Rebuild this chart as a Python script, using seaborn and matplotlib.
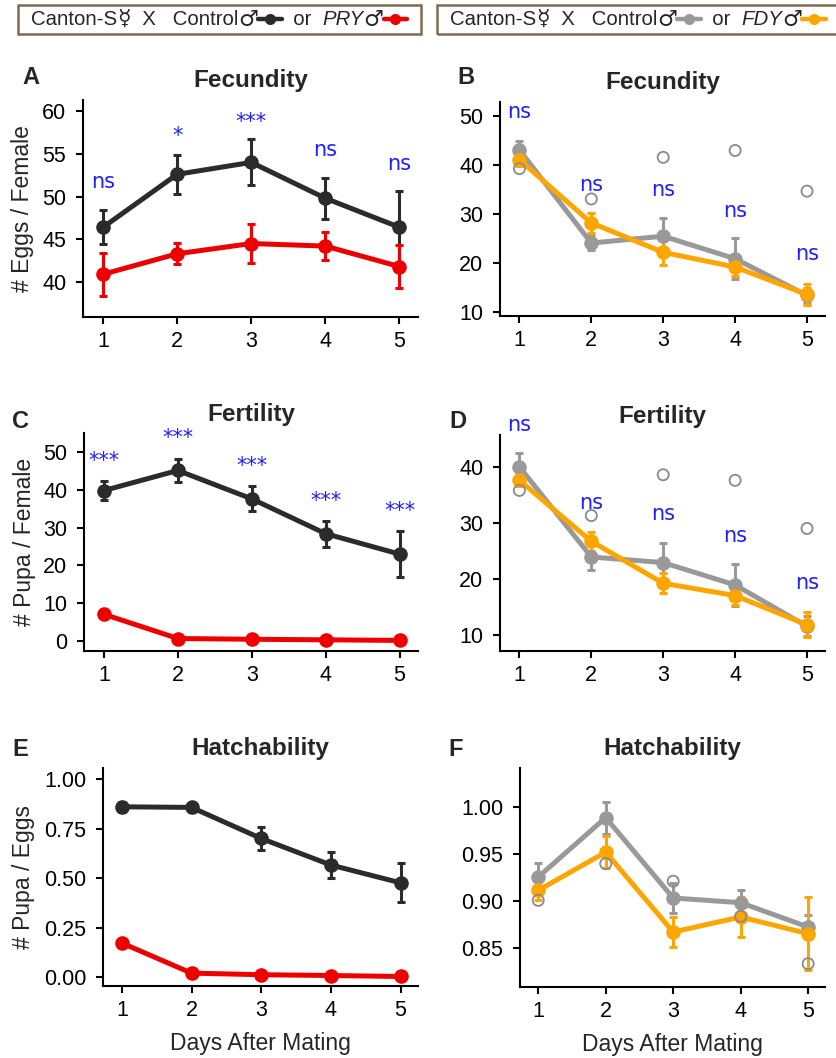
import numpy as np
import pandas as pd
import seaborn as sns
import matplotlib.pyplot as plt
from matplotlib.lines import Line2D
from matplotlib.patches import Rectangle
from matplotlib.ticker import FormatStrFormatter
from matplotlib.offsetbox import TextArea, DrawingArea, HPacker, AnchoredOffsetbox

# ---- data (mean +/- sem per day) ----
days = [1, 2, 3, 4, 5]

# Fecundity, eggs / female
fec_ctrl_a = [46.4, 52.6, 54.0, 49.8, 46.4]
fec_ctrl_a_sem = [2.0, 2.3, 2.7, 2.4, 4.2]
fec_pry = [40.9, 43.3, 44.5, 44.2, 41.8]
fec_pry_sem = [2.5, 1.25, 2.3, 1.65, 2.5]
fec_ctrl_b = [43.1, 24.1, 25.5, 20.9, 13.4]
fec_ctrl_b_sem = [1.9, 1.5, 3.8, 4.2, 1.5]
fec_fdy = [41.1, 28.2, 22.2, 19.2, 13.6]
fec_fdy_sem = [1.2, 2.05, 2.55, 1.9, 2.2]
fec_open_b = [39.3, 33.1, 41.6, 43.0, 34.7]

# Fertility, pupa / female
fer_ctrl_c = [39.8, 45.1, 37.6, 28.4, 23.0]
fer_ctrl_c_sem = [2.4, 3.0, 3.3, 3.4, 6.1]
fer_pry = [7.1, 0.7, 0.5, 0.35, 0.2]
fer_pry_sem = [0.5, 0.3, 0.2, 0.2, 0.1]
fer_ctrl_d = [40.0, 23.9, 22.9, 18.9, 11.5]
fer_ctrl_d_sem = [2.4, 2.3, 3.5, 3.7, 1.8]
fer_fdy = [37.6, 26.7, 19.2, 17.0, 11.8]
fer_fdy_sem = [1.0, 1.65, 1.75, 1.75, 2.2]
fer_open_d = [35.8, 31.3, 38.6, 37.6, 29.0]

# Hatchability, pupa / eggs
hat_ctrl_e = [0.860, 0.857, 0.700, 0.566, 0.476]
hat_ctrl_e_sem = [0.026, 0.022, 0.059, 0.066, 0.098]
hat_pry = [0.172, 0.020, 0.012, 0.008, 0.003]
hat_pry_sem = [0.010, 0.005, 0.003, 0.003, 0.002]
hat_ctrl_f = [0.9255, 0.9887, 0.9032, 0.8982, 0.8723]
hat_ctrl_f_sem = [0.015, 0.017, 0.016, 0.014, 0.0125]
hat_fdy = [0.9113, 0.952, 0.867, 0.883, 0.8652]
hat_fdy_sem = [0.0105, 0.017, 0.016, 0.021, 0.039]
hat_open_f = [0.9007, 0.9397, 0.921, 0.8837, 0.8333]

# significance labels and their heights
sig_a = ['ns', '*', '***', 'ns', 'ns']
sig_a_y = [51.0, 56.4, 58.0, 54.7, 53.1]
sig_b = ['ns', 'ns', 'ns', 'ns', 'ns']
sig_b_y = [49.7, 34.8, 33.8, 29.5, 20.7]
sig_c = ['***', '***', '***', '***', '***']
sig_c_y = [46.0, 52.0, 44.7, 35.4, 32.8]
sig_d = ['ns', 'ns', 'ns', 'ns', 'ns']
sig_d_y = [46.4, 32.4, 30.5, 26.5, 18.2]

BLACK = '#2b2b2b'
RED = '#ee0000'
GRAY = '#999999'
ORANGE = '#ffa500'
BLUE = '#1f1fff'
FONTS = ['Liberation Sans', 'DejaVu Sans']

sns.set_style('ticks')
plt.rcParams['font.family'] = FONTS
plt.rcParams['axes.linewidth'] = 1.5
plt.rcParams['axes.edgecolor'] = 'black'

W, H = 836, 1058
fig = plt.figure(figsize=(W / 100, H / 100), dpi=100)


def px_axes(l, t, r, b):
    return fig.add_axes([l / W, 1 - b / H, (r - l) / W, (b - t) / H])


def draw_group(ax, y, sem, color):
    ax.errorbar(days, y, yerr=sem, fmt='none', ecolor=color, elinewidth=2.2,
                capsize=3, capthick=2.2, zorder=2)
    sns.lineplot(x=days, y=y, color=color, marker='o', markersize=10.5,
                 markeredgewidth=0, linewidth=3.6, errorbar=None, ax=ax, zorder=3)


def style_axes(ax, title, ylim, yticks, ylabel=None, lab_x=-0.145, fmt=None):
    ax.set_xlim(0.73, 5.25)
    ax.set_ylim(*ylim)
    ax.set_xticks(days)
    ax.set_yticks(yticks)
    if fmt:
        ax.yaxis.set_major_formatter(FormatStrFormatter(fmt))
    ax.tick_params(direction='out', length=5, width=1.5, labelsize=15.5,
                   colors='black')
    ax.tick_params(axis='x', pad=5)
    ax.tick_params(axis='y', pad=7)
    sns.despine(ax=ax)
    ax.set_title(title, fontsize=17.5, fontweight='bold', pad=9)
    ax.set_xlabel('')
    if ylabel:
        ax.set_ylabel(ylabel, fontsize=16.5)
        ax.yaxis.set_label_coords(lab_x, 0.5)
    else:
        ax.set_ylabel('')


def add_sig(ax, labels, ys):
    for d, lab, y in zip(days, labels, ys):
        ax.text(d, y, lab, color=BLUE, fontsize=15, ha='center', va='baseline',
                family='DejaVu Sans', zorder=6)


def add_open(ax, ys):
    sns.scatterplot(x=days, y=ys, marker='o', s=64, facecolors='none',
                    edgecolors='#8a8a8a', linewidth=1.3, ax=ax, zorder=6)


# A
ax = px_axes(83, 100, 418, 317)
draw_group(ax, fec_ctrl_a, fec_ctrl_a_sem, BLACK)
draw_group(ax, fec_pry, fec_pry_sem, RED)
add_sig(ax, sig_a, sig_a_y)
style_axes(ax, 'Fecundity', (35.9, 61.3), [40, 45, 50, 55, 60], '# Eggs / Female', -0.145)

# B
ax = px_axes(500, 102, 825, 316)
draw_group(ax, fec_ctrl_b, fec_ctrl_b_sem, GRAY)
draw_group(ax, fec_fdy, fec_fdy_sem, ORANGE)
add_open(ax, fec_open_b)
add_sig(ax, sig_b, sig_b_y)
style_axes(ax, 'Fecundity', (9.2, 52.9), [10, 20, 30, 40, 50])

# C
ax = px_axes(84, 433, 418, 651)
draw_group(ax, fer_ctrl_c, fer_ctrl_c_sem, BLACK)
draw_group(ax, fer_pry, fer_pry_sem, RED)
add_sig(ax, sig_c, sig_c_y)
style_axes(ax, 'Fertility', (-2.6, 55), [0, 10, 20, 30, 40, 50], '# Pupa / Female', -0.145)

# D
ax = px_axes(500, 435, 825, 651)
draw_group(ax, fer_ctrl_d, fer_ctrl_d_sem, GRAY)
draw_group(ax, fer_fdy, fer_fdy_sem, ORANGE)
add_open(ax, fer_open_d)
add_sig(ax, sig_d, sig_d_y)
style_axes(ax, 'Fertility', (7.1, 45.7), [10, 20, 30, 40])

# E
ax = px_axes(103, 768, 418, 986)
draw_group(ax, hat_ctrl_e, hat_ctrl_e_sem, BLACK)
draw_group(ax, hat_pry, hat_pry_sem, RED)
style_axes(ax, 'Hatchability', (-0.045, 1.056), [0, 0.25, 0.5, 0.75, 1.0],
           '# Pupa / Eggs', -0.216, '%.2f')
ax.set_xlabel('Days After Mating', fontsize=16.5, labelpad=8)

# F
ax = px_axes(520, 768, 825, 987)
draw_group(ax, hat_ctrl_f, hat_ctrl_f_sem, GRAY)
draw_group(ax, hat_fdy, hat_fdy_sem, ORANGE)
add_open(ax, hat_open_f)
style_axes(ax, 'Hatchability', (0.8085, 1.0415), [0.85, 0.90, 0.95, 1.00],
           fmt='%.2f')
ax.set_xlabel('Days After Mating', fontsize=16.5, labelpad=8)

# panel letters
for lab, x, y in [('A', 22, 77), ('B', 457, 77), ('C', 12, 422),
                  ('D', 449, 422), ('E', 12, 750), ('F', 448, 750)]:
    fig.text(x / W, 1 - y / H, lab, fontsize=17, fontweight='bold',
             ha='left', va='center')


# header legends
def key(color):
    da = DrawingArea(17, 10, 0, 0)
    da.add_artist(Line2D([0, 17], [5, 5], color=color, lw=3.2))
    da.add_artist(Line2D([8.5], [5], color=color, marker='o', ms=8, mew=0))
    return da


def header(test_name, ctrl_color, test_color, left_px, right_px):
    tp = dict(size=14.7, family=FONTS)
    sp = dict(size=16, family='DejaVu Sans', weight='bold')
    parts = [TextArea('Canton-S', textprops=tp),
             TextArea('\u263f', textprops=sp),
             TextArea('  X   Control', textprops=tp),
             TextArea('\u2642', textprops=sp),
             key(ctrl_color),
             TextArea('  or  ', textprops=tp),
             TextArea(test_name, textprops=dict(tp, style='italic')),
             TextArea('\u2642', textprops=sp),
             key(test_color)]
    fig.add_artist(Rectangle((left_px / W, 1 - 34 / H), (right_px - left_px) / W,
                             29 / H, transform=fig.transFigure, fill=False,
                             edgecolor='#7d6b4f', linewidth=1.8))
    box = AnchoredOffsetbox(loc='center left',
                            child=HPacker(children=parts, align='center', pad=0, sep=0),
                            pad=0, borderpad=0, frameon=False,
                            bbox_to_anchor=((left_px + 13) / W, 1 - 19.5 / H),
                            bbox_transform=fig.transFigure)
    fig.add_artist(box)


header('PRY', BLACK, RED, 18, 421)
header('FDY', GRAY, ORANGE, 437, 840)

fig.savefig('out.png', dpi=100)
